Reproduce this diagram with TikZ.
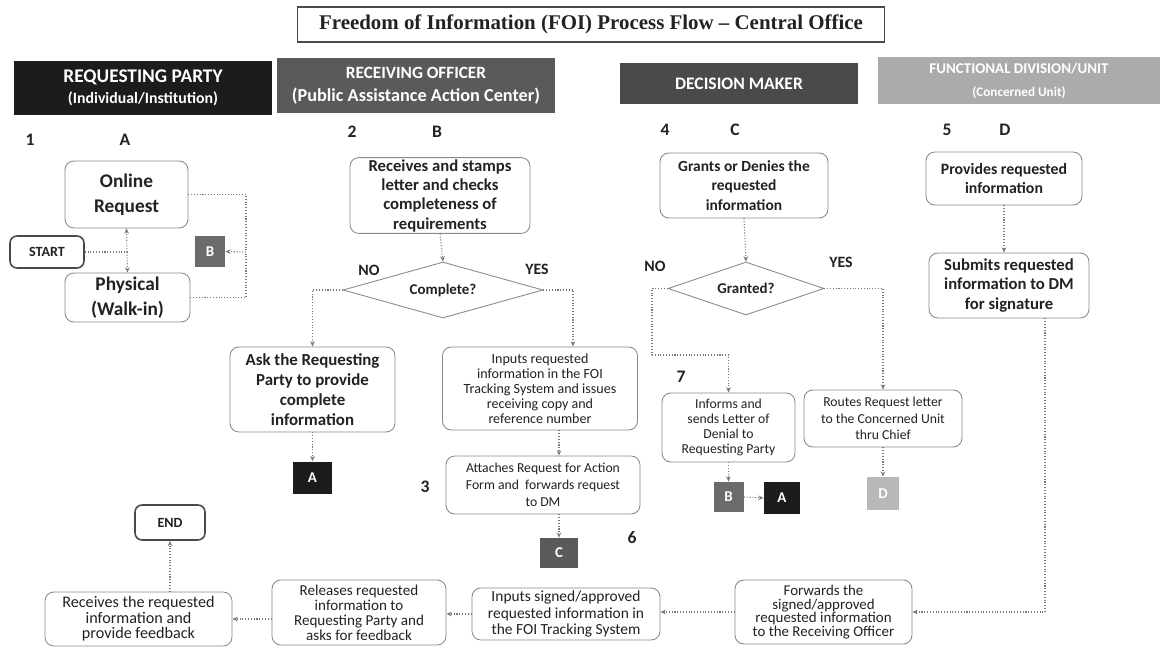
\documentclass[tikz,border=0pt]{standalone}
\usepackage{fontspec}
\setmainfont{Carlito}
\newfontfamily\titlefont{Liberation Serif}
\usetikzlibrary{shapes.geometric,arrows.meta}
\definecolor{hblack}{HTML}{1C1C1C}
\definecolor{hdark}{HTML}{5A5A5A}
\definecolor{hmid}{HTML}{4A4A4A}
\definecolor{hlight}{HTML}{ABABAB}
\definecolor{boxline}{HTML}{8A8A8A}
\definecolor{txt}{HTML}{222222}
\definecolor{lnk}{HTML}{7A7A7A}
\tikzset{
  box/.style={draw=boxline, line width=0.5pt, rounded corners=5pt, align=center, text=txt, inner sep=1pt},
  bigtxt/.style={font=\fontsize{11}{14}\selectfont\bfseries},
  midtxt/.style={font=\fontsize{9.5}{11}\selectfont\bfseries},
  smalltxt/.style={font=\fontsize{8}{8.6}\selectfont},
  termbox/.style={draw=hmid, line width=0.9pt, rounded corners=4pt, text=txt, font=\fontsize{8}{10}\selectfont\bfseries},
  hdr/.style={text=white, align=center, inner sep=0pt},
  tag/.style={text=white, font=\fontsize{8.5}{10}\selectfont\bfseries, inner sep=0pt},
  dec/.style={diamond, aspect=3.5, draw=boxline, line width=0.5pt, inner sep=0pt, text=txt, font=\fontsize{8.5}{10}\selectfont\bfseries},
  lab/.style={text=txt, font=\fontsize{10}{12}\selectfont\bfseries},
  yn/.style={text=txt, font=\fontsize{9}{11}\selectfont\bfseries},
  link/.style={draw=lnk, densely dotted, line width=0.6pt},
  arr/.style={link, -{Stealth[length=3pt,width=2.6pt]}}
}
\begin{document}
\begin{tikzpicture}[x=0.02cm,y=-0.02cm]
\useasboundingbox (0,0) rectangle (1167,648);
\fill[white] (0,0) rectangle (1167,648);
% title
\node[draw=hmid, line width=0.6pt, minimum width=11.74cm, minimum height=0.7cm, font=\titlefont\fontsize{11.9}{13}\selectfont\bfseries, text=txt] (title) at (591,24.5) {Freedom of Information (FOI) Process Flow – Central Office};
% headers
\node[hdr, fill=hblack, minimum width=5.16cm, minimum height=1.08cm] (h1) at (143,88) {{\fontsize{11}{13}\selectfont\bfseries REQUESTING PARTY}\\[0pt]{\fontsize{9}{10}\selectfont\bfseries (Individual/Institution)}};
\node[hdr, fill=hdark, minimum width=5.56cm, minimum height=1.1cm] (h2) at (416,85.5) {{\fontsize{9.8}{12}\selectfont\bfseries RECEIVING OFFICER}\\[1pt]{\fontsize{10.4}{11}\selectfont\bfseries (Public Assistance Action Center)}};
\node[hdr, fill=hmid, minimum width=4.76cm, minimum height=0.82cm, font=\fontsize{10}{12}\selectfont\bfseries] (h3) at (739,83.5) {DECISION MAKER};
\node[hdr, fill=hlight, minimum width=5.64cm, minimum height=0.94cm] (h4) at (1019,80.5) {{\fontsize{8.5}{11}\selectfont\bfseries FUNCTIONAL DIVISION/UNIT}\\[1pt]{\fontsize{7.5}{9}\selectfont\bfseries (Concerned Unit)}};
% step labels
\node[lab] (n1) at (30,140) {1};
\node[lab] (lA) at (125,140) {A};
\node[lab] (n2) at (352,132) {2};
\node[lab] (lB) at (437,132) {B};
\node[lab] (n4) at (665,130) {4};
\node[lab] (lC) at (735,130) {C};
\node[lab] (n5) at (947,130) {5};
\node[lab] (lD) at (1005,130) {D};
\node[lab] (n3) at (425,487) {3};
\node[lab] (n6) at (632,538) {6};
\node[lab] (n7) at (681,377) {7};
% column A
\node[box, bigtxt, minimum width=2.46cm, minimum height=1.34cm] (online) at (126.5,194.5) {Online\\Request};
\node[termbox, minimum width=1.48cm, minimum height=0.64cm] (start) at (47,252) {START};
\node[box, bigtxt, minimum width=2.5cm, minimum height=0.98cm] (physical) at (127.5,297.5) {Physical\\(Walk-in)};
\node[tag, fill=hdark!90!white, minimum width=0.6cm, minimum height=0.62cm] (tB1) at (210,251.5) {B};
\coordinate (j1) at (127,252);
\coordinate (k1) at (246,252);
\draw[link] (start.east) -- (j1);
\draw[arr] (j1) -- (online.south);
\draw[arr] (j1) -- (physical.north);
\draw[link] (online.east) -| (k1);
\draw[link] (physical.east) -| (k1);
\draw[arr] (k1) -- (tB1.east);
% column B
\node[box, midtxt, minimum width=3.6cm, minimum height=1.5cm] (recv) at (440,195.5) {Receives and stamps\\letter and checks\\completeness of\\requirements};
\node[dec, minimum width=4cm, minimum height=1.12cm] (complete) at (443,290) {Complete?};
\node[yn] (noB) at (369,270) {NO};
\node[yn] (yesB) at (537,269) {YES};
\node[box, font=\fontsize{9.6}{11.5}\selectfont\bfseries, minimum width=3.3cm, minimum height=1.7cm] (ask) at (312.5,389.5) {Ask the Requesting\\Party to provide\\complete\\information};
\node[tag, fill=hblack, minimum width=0.8cm, minimum height=0.66cm] (tA1) at (312.5,478) {A};
\node[box, smalltxt, minimum width=3.9cm, minimum height=1.66cm] (inputs) at (540,388.5) {Inputs requested\\information in the FOI\\Tracking System and issues\\receiving copy and\\reference number};
\node[box, font=\fontsize{7.8}{9.6}\selectfont, minimum width=3.88cm, minimum height=1.16cm] (attach) at (543,485) {Attaches Request for Action\\Form and\ \ forwards request\\to DM};
\node[tag, fill=hdark, minimum width=0.76cm, minimum height=0.6cm] (tC1) at (559,553) {C};
\draw[arr] (recv.south) -- (complete.north);
\draw[arr] (complete.west) -| (ask.north);
\draw[arr] (complete.east) -| ([xshift=0.66cm]inputs.north);
\draw[arr] (ask.south) -- (tA1.north);
\draw[arr] ([xshift=0.38cm]inputs.south) -- ([xshift=0.38cm]inputs.south |- attach.north);
\draw[arr] (tC1.north |- attach.south) -- (tC1.north);
% column C
\node[box, font=\fontsize{8.8}{11}\selectfont\bfseries, minimum width=3.36cm, minimum height=1.3cm] (grants) at (744,185.5) {Grants or Denies the\\requested\\information};
\node[dec, minimum width=3.12cm, minimum height=1.06cm] (granted) at (746,288.5) {Granted?};
\node[yn] (noC) at (655,266) {NO};
\node[yn] (yesC) at (841,262) {YES};
\node[box, font=\fontsize{7.8}{8.6}\selectfont, minimum width=2.66cm, minimum height=1.38cm] (informs) at (728.5,427.5) {Informs and\\sends Letter of\\Denial to\\Requesting Party};
\node[box, font=\fontsize{7.8}{9.4}\selectfont, minimum width=3.16cm, minimum height=1.14cm] (routes) at (883,418.5) {Routes Request letter\\to the Concerned Unit\\thru Chief};
\node[tag, fill=hdark!90!white, minimum width=0.6cm, minimum height=0.6cm] (tB2) at (728.5,497) {B};
\node[tag, fill=hblack, minimum width=0.72cm, minimum height=0.64cm] (tA2) at (782,498) {A};
\node[tag, fill=hlight!85!white, minimum width=0.64cm, minimum height=0.66cm] (tD1) at (883,493.5) {D};
\coordinate (m1) at (652,355);
\draw[arr] (grants.south) -- (granted.north);
\draw[link] (granted.west) -| (m1);
\draw[arr] (m1) -| (informs.north);
\draw[arr] (granted.east) -| (routes.north);
\draw[arr] (informs.south) -- (tB2.north);
\draw[arr] (tB2.east) -- (tA2.west);
\draw[arr] (routes.south) -- (tD1.north);
% column D
\node[box, font=\fontsize{9}{11}\selectfont\bfseries, minimum width=3.12cm, minimum height=1.06cm] (provides) at (1004,178.5) {Provides requested\\information};
\node[box, midtxt, minimum width=3.2cm, minimum height=1.3cm] (submits) at (1009,285.5) {Submits requested\\information to DM\\for signature};
\draw[arr] (provides.south) -- (provides.south |- submits.north);
% bottom row
\node[box, font=\fontsize{8.5}{7.8}\selectfont, minimum width=3.54cm, minimum height=1.28cm] (forwards) at (823.5,612) {Forwards the\\signed/approved\\requested information\\to the Receiving Officer};
\node[box, font=\fontsize{8.8}{9.2}\selectfont, minimum width=3.76cm, minimum height=1.04cm] (inputs2) at (566,614) {Inputs signed/approved\\requested information in\\the FOI Tracking System};
\node[box, font=\fontsize{8.6}{8.6}\selectfont, minimum width=3.48cm, minimum height=1.3cm] (releases) at (359,612.5) {Releases requested\\information to\\Requesting Party and\\asks for feedback};
\node[box, font=\fontsize{9.2}{8.8}\selectfont, minimum width=3.74cm, minimum height=1.08cm] (receives) at (138.5,619) {Receives the requested\\information and\\provide feedback};
\node[termbox, minimum width=1.4cm, minimum height=0.7cm] (endn) at (170,522.5) {END};
\draw[arr] ([xshift=0.72cm]submits.south) |- (forwards.east);
\draw[arr] (forwards.west) -- (forwards.west -| inputs2.east);
\draw[arr] (inputs2.west) -- (inputs2.west -| releases.east);
\draw[arr] (releases.west |- receives.east) -- (receives.east);
\draw[arr] (endn.south |- receives.north) -- (endn.south);
\end{tikzpicture}
\end{document}
